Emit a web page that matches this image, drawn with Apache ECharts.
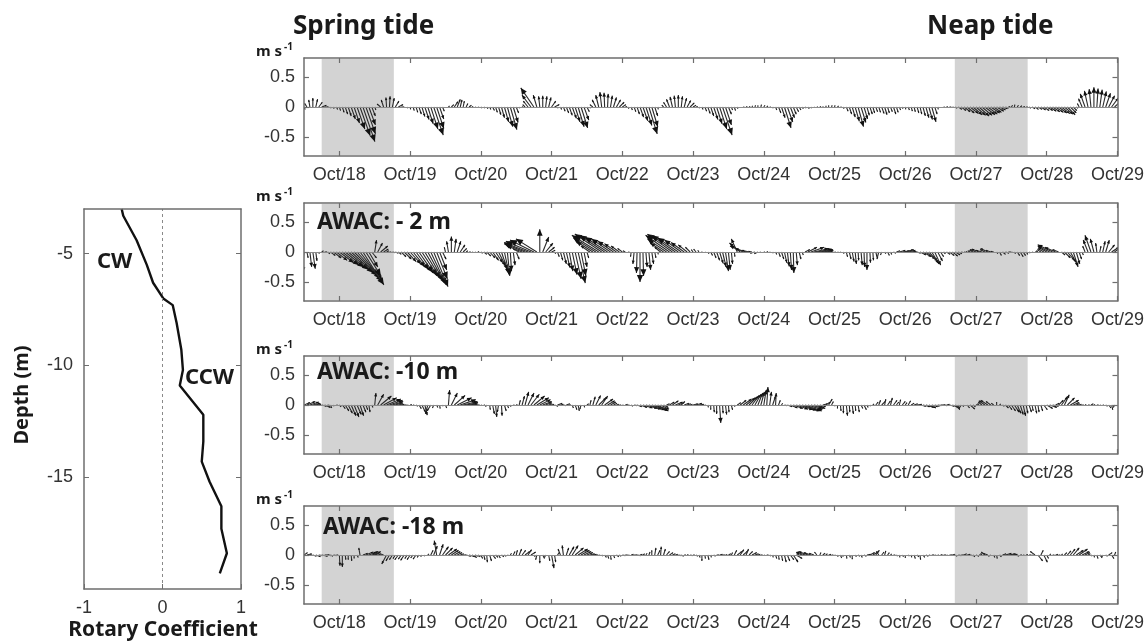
<!DOCTYPE html>
<html>
<head>
<meta charset="utf-8">
<title>Rotary coefficient and current sticks</title>
<script src="https://cdn.jsdelivr.net/npm/echarts@6/dist/echarts.min.js"></script>
<style>
  html, body { margin: 0; padding: 0; background: #fff; }
  #chart { width: 1147px; height: 642px; }
</style>
</head>
<body>
<div id="chart"></div>
<script>
// rotary coefficient profile (left panel)
const depth  = [-3.0, -3.3, -4.4, -5.5, -6.3, -7.0, -7.3, -8.1, -9.3, -10.2, -10.9, -12.2, -13.4, -14.3, -15.2, -16.3, -17.3, -18.4, -19.3];
const rotary = [-0.52, -0.50, -0.33, -0.20, -0.12, 0.01, 0.13, 0.18, 0.24, 0.26, 0.22, 0.52, 0.52, 0.50, 0.60, 0.75, 0.75, 0.82, 0.73];
const depthTicks = [-15, -10, -5];

// stick plots: hourly samples starting Oct 17 12:00, east (u) / north (v) in cm/s
const startDay = 17.5;
const dayTicks = [18, 19, 20, 21, 22, 23, 24, 25, 26, 27, 28, 29];
const dayLabels = ['Oct/18', 'Oct/19', 'Oct/20', 'Oct/21', 'Oct/22', 'Oct/23', 'Oct/24', 'Oct/25', 'Oct/26', 'Oct/27', 'Oct/28', 'Oct/29'];
const speedTicks = [-0.5, 0, 0.5];
const speedLabels = ['-0.5', '0', '0.5'];
const tideBands = [[17.75, 18.77], [26.7, 27.73]];
const panelNames = ['', 'AWAC: - 2 m', 'AWAC: -10 m', 'AWAC: -18 m'];

const u1 = [
  2,-4,-2,0,3,6,8,6,3,1,1,2,2,3,4,5,7,9,13,17,20,16,11,6,
  2,0,-6,-4,-1,1,3,6,8,5,0,1,1,2,3,4,5,7,9,12,16,12,7,3,
  0,2,4,6,5,3,2,3,4,2,2,2,2,2,2,2,3,3,4,5,7,9,11,8,
  4,1,1,-4,-8,-15,-22,-6,-2,0,2,4,7,8,1,2,3,4,5,7,8,10,11,8,
  4,1,-5,-6,-5,-3,-1,1,3,5,7,8,6,3,1,2,3,4,6,8,10,14,10,5,
  1,0,-3,-5,-5,-4,-2,0,2,4,6,7,5,3,1,2,3,4,5,7,9,12,16,10,
  5,2,2,1,0,2,2,2,1,1,0,1,2,2,2,1,2,4,6,11,9,7,5,4,
  3,2,2,2,1,1,2,2,1,1,0,1,1,2,2,1,3,4,5,7,9,8,6,4,
  4,3,3,3,4,4,3,3,4,3,2,1,1,2,2,2,3,3,4,5,6,7,4,1,
  0,2,2,3,3,3,6,8,10,12,14,15,16,17,17,17,16,15,13,12,10,8,5,3,
  2,1,2,3,3,3,3,5,6,7,8,9,10,11,12,13,14,14,14,13,10,6,3,-3,
  -6,-8,-6,-3,0,2,4,6,8,10,11,12
];
const v1 = [
  -4,6,12,15,13,8,3,0,-1,-2,-3,-4,-6,-9,-12,-15,-20,-27,-37,-48,-58,-45,-30,-15,
  -5,-1,5,12,16,18,15,10,4,0,-1,-2,-4,-6,-9,-12,-16,-21,-28,-37,-47,-36,-20,-7,
  -1,2,4,9,13,12,10,6,3,1,-1,-1,-2,-2,-3,-4,-6,-9,-13,-18,-25,-33,-38,-26,
  -10,-2,1,4,10,20,32,20,18,19,18,16,10,4,-2,-4,-7,-10,-14,-19,-25,-33,-35,-22,
  -8,-2,4,12,20,25,24,22,19,16,12,8,4,1,-3,-5,-8,-12,-17,-23,-31,-45,-33,-15,
  -4,-1,3,8,13,17,19,20,18,15,11,7,3,1,-2,-4,-7,-11,-15,-21,-28,-37,-47,-30,
  -12,-5,-6,-3,-1,0,1,1,2,3,3,4,3,2,0,-2,-5,-10,-18,-35,-25,-18,-12,-8,
  -5,-3,-2,-3,-2,-1,0,1,1,2,3,3,3,2,0,-3,-7,-12,-17,-24,-33,-26,-20,-14,
  -12,-10,-8,-9,-11,-13,-10,-8,-12,-9,-5,-3,-4,-5,-7,-8,-10,-12,-15,-18,-21,-25,-12,-4,
  -1,0,1,0,-1,-2,-4,-6,-8,-10,-11,-13,-14,-15,-14,-13,-12,-10,-9,-7,-5,-3,-2,1,
  3,4,3,2,1,0,-2,-3,-4,-4,-5,-6,-6,-7,-8,-9,-10,-11,-12,-13,-10,-6,-2,6,
  14,22,27,30,33,31,29,26,23,19,15,11
];

const u2 = [
  -3,2,3,4,2,1,3,4,4,8,13,18,24,28,32,35,38,40,40,38,35,25,15,8,
  3,8,12,8,4,3,4,5,5,8,12,15,18,20,22,24,26,27,27,26,24,18,12,6,
  -2,-3,0,3,6,8,6,3,3,2,1,2,3,5,7,9,10,12,12,10,8,4,2,3,
  5,-10,-25,-35,-40,-42,-40,-35,0,10,12,10,6,2,3,4,5,6,6,8,10,12,8,5,
  3,-15,-28,-38,-45,-45,-42,-38,-32,-26,-20,-14,-8,-4,2,-1,-2,-1,0,1,2,3,3,2,
  1,-10,-22,-32,-40,-42,-40,-35,-28,-22,-15,-8,-3,-4,-2,0,1,2,3,4,5,6,6,5,
  3,2,1,-10,-18,-22,-18,-12,-6,-8,-6,-2,2,2,1,1,2,3,4,4,3,2,1,2,
  3,2,8,15,22,25,25,22,18,12,6,3,2,2,1,1,2,3,3,2,1,2,1,0,
  1,1,2,-3,-2,2,3,2,4,6,10,12,14,12,8,5,6,10,14,16,15,12,10,8,
  5,3,6,8,9,8,6,3,2,-2,-4,-6,-10,-12,-10,-8,-12,-8,-5,2,3,5,6,4,
  2,2,4,5,4,3,2,2,3,-3,-6,-10,-14,-20,-25,-18,-10,6,10,12,10,8,6,4,
  2,-4,-8,-10,-6,-2,2,4,6,10,12,15
];
const v2 = [
  -35,-10,-25,-28,-15,-3,2,0,-3,-6,-10,-14,-18,-22,-26,-30,-35,-40,-45,-50,-55,-40,-25,-10,
  20,15,10,5,2,0,-1,-2,-4,-8,-12,-16,-20,-25,-30,-35,-40,-45,-50,-55,-58,-45,-30,-12,
  8,18,26,22,18,12,6,2,0,-1,0,1,-2,-4,-7,-10,-14,-18,-24,-30,-38,-40,-32,-22,
  -12,5,10,14,16,18,20,22,38,25,15,8,3,-3,-8,-14,-20,-26,-32,-38,-45,-52,-40,-25,
  -10,10,18,24,28,30,28,25,22,18,14,10,6,2,0,-8,-20,-35,-50,-40,-25,-30,-20,-10,
  -4,8,15,22,28,30,28,24,20,16,12,8,4,5,3,1,-1,-3,-6,-10,-14,-19,-25,-32,
  -30,-20,-8,22,15,10,6,3,1,-2,-3,-1,0,1,0,-2,-4,-8,-12,-18,-24,-30,-35,-22,
  -12,-5,4,8,8,6,5,4,3,2,1,0,0,-1,0,-3,-8,-12,-16,-20,-14,-22,-25,-30,
  -18,-14,-8,-12,-5,-3,-6,-4,-2,2,3,2,4,3,1,0,-2,-5,-8,-12,-16,-20,-22,-15,
  -8,-3,-4,-6,-7,-5,-3,-1,0,1,2,3,4,5,3,4,6,3,1,-3,-6,-4,-2,0,
  -1,-3,-6,-8,-6,-4,-2,-1,0,2,4,6,8,10,12,8,4,-5,-10,-14,-18,-25,-20,-12,
  -5,10,20,28,22,15,10,18,20,12,8,12
];

const u3 = [
  10,14,15,12,8,4,8,10,4,2,1,2,3,5,6,7,8,8,7,6,5,3,2,2,
  2,10,18,22,24,22,18,12,8,5,4,3,3,2,3,4,6,4,-4,-6,-2,2,1,1,
  2,2,10,18,24,26,24,20,14,8,5,3,2,2,-2,1,3,2,-2,1,3,2,1,2,
  2,2,4,6,10,14,18,20,18,15,10,6,4,6,8,5,4,6,3,2,3,2,-2,1,
  3,2,4,8,12,10,14,12,9,6,4,3,3,4,2,3,5,8,12,16,20,22,24,22,
  18,14,8,5,8,10,12,10,6,8,6,4,8,10,8,4,2,1,0,1,0,2,1,2,
  1,2,1,6,10,14,15,14,12,10,8,6,4,2,3,5,1,3,2,4,8,12,16,20,
  24,26,28,24,20,16,14,10,8,8,6,3,1,0,1,0,2,1,2,1,2,3,4,2,
  1,2,4,3,6,2,5,3,6,4,2,5,3,4,5,6,8,10,12,14,12,10,8,6,
  8,6,5,8,10,6,2,-4,-2,4,8,4,3,-2,-6,-10,-12,-8,-4,0,2,3,5,6,
  7,8,6,5,4,3,4,2,3,2,3,6,10,12,10,6,8,10,8,12,14,10,6,4,
  3,2,3,4,2,3,2,2,3,4,2,-2
];
const v3 = [
  4,6,5,3,2,1,-2,-4,-1,-5,-2,0,-3,-6,-10,-14,-18,-20,-16,-18,-12,-8,-12,-4,
  20,18,15,12,10,8,6,4,2,1,0,-1,1,0,-2,-6,-12,-17,-15,-10,-5,-4,-6,-2,
  -5,25,20,16,12,9,6,4,2,1,0,0,-1,0,-3,-8,-15,-20,-12,-18,-10,-5,-3,0,
  1,8,15,22,20,18,15,12,9,6,4,2,1,-2,3,1,-1,2,0,-5,-8,-10,-7,-4,
  2,8,14,16,12,15,10,7,5,3,1,0,-1,1,0,-2,-1,-3,-4,-5,-6,-7,-8,-9,
  -10,-7,-4,2,5,7,5,4,6,3,2,1,2,3,1,0,-1,-4,-8,-12,-15,-30,-14,-16,
  -12,-8,-3,4,8,10,12,14,16,18,20,22,25,30,22,15,20,8,3,-1,-3,-5,-6,-7,
  -8,-9,-10,-8,-6,-4,-6,-3,2,5,10,6,-2,-6,-10,-14,-18,-12,-15,-10,-12,-6,-8,-4,
  -2,2,5,8,6,10,7,12,8,5,9,6,4,7,3,2,1,-2,-3,-4,-5,-3,-2,-1,
  0,-1,1,-2,-4,-6,-8,-6,-3,-5,-7,-3,1,3,5,7,8,6,3,5,2,-2,-5,-8,
  -10,-12,-14,-16,-18,-14,-12,-10,-14,-12,-10,-8,-6,-4,-2,3,8,14,17,12,8,4,2,1,
  0,1,0,2,1,0,-1,0,-2,-5,-8,-4
];

const u4 = [
  6,8,4,6,8,6,10,8,6,4,5,3,1,0,1,0,1,0,2,-2,8,12,16,14,
  10,-8,-12,-6,-8,-6,-5,-4,-6,-5,-6,-4,-5,-4,-5,-3,-2,-1,2,4,6,-4,6,10,
  12,14,12,10,8,6,5,8,10,8,6,4,3,2,1,3,5,4,3,4,3,2,2,3,
  2,4,6,8,6,8,2,-2,0,3,-2,2,4,2,3,-4,-2,4,8,10,14,16,14,12,
  10,8,6,4,3,2,3,2,1,2,4,3,5,4,3,4,5,6,4,3,2,2,0,2,
  4,1,3,5,6,5,4,5,4,3,2,4,3,3,2,0,1,2,1,3,4,5,4,3,
  4,2,4,8,6,8,4,6,8,6,4,3,2,3,2,1,2,1,2,3,4,6,8,10,
  -4,-10,-14,-16,-12,-8,-4,2,4,3,4,3,2,1,2,-1,1,2,0,2,3,2,4,6,
  8,10,6,-4,4,2,3,2,3,2,1,2,0,2,1,2,3,1,3,4,3,4,3,2,
  3,4,3,5,4,3,5,6,4,5,4,3,5,4,-2,-6,-8,-4,2,1,3,6,10,12,
  10,6,3,3,2,3,4,2,-8,8,4,6,3,2,3,4,3,2,4,6,8,10,12,14,
  12,8,4,2,1,2,3,-2,3,6,4,2
];
const v4 = [
  4,2,0,-2,-3,-1,-2,0,-1,-2,-1,0,-18,-20,-8,-8,-10,-6,-4,12,3,5,6,4,
  6,3,5,2,-15,-10,-8,-6,-8,-7,-9,-6,-8,-5,-7,-4,-3,-2,2,8,15,24,18,14,
  12,10,8,6,4,2,0,-2,-3,-4,-2,-3,-6,-8,-12,-10,-6,-4,-5,-3,-2,-1,3,6,
  8,10,8,6,9,5,-3,-8,-14,-6,-4,-10,-22,-12,4,10,16,12,14,16,12,10,8,6,
  4,2,1,0,-1,-2,-4,-6,-8,-5,-3,-2,-1,0,-1,1,0,-1,1,2,3,5,8,12,
  8,14,10,6,4,2,1,-1,-2,0,1,-1,0,-2,-4,-10,-6,-8,-4,-2,0,1,0,1,
  2,4,8,6,9,7,10,6,4,2,1,0,-1,0,-2,-4,-6,-8,-10,-12,-10,-8,-12,-6,
  2,4,5,6,4,3,5,4,3,2,1,0,-1,-3,-5,-3,-6,-4,-7,-3,-2,-4,-2,1,
  4,6,8,6,5,7,4,2,0,-2,-4,-3,-5,-2,-4,-6,-3,-8,-4,-2,-1,0,-1,0,
  1,0,-1,0,1,-2,-1,0,2,1,-1,-3,-2,0,3,5,3,-2,-4,-6,-3,2,3,2,
  1,-1,-2,0,0,1,0,-1,6,-10,8,-12,-6,2,0,1,0,2,4,7,10,12,8,10,
  6,4,2,-2,-4,-6,-3,-5,-2,4,-6,5
];

const panels = [[u1, v1], [u2, v2], [u3, v3], [u4, v4]];

// layout
const panelTop = [58, 203, 356, 506];
const panelLeft = 304, panelWidth = 814, panelHeight = 98;
const yLim = 0.82;
const frame = '#6e6e6e';
const xTickFont = { color: '#333', fontSize: 18, fontFamily: '"Liberation Sans", Arial, sans-serif' };
const yTickFont = { color: '#333', fontSize: 18, fontFamily: '"Liberation Sans", Arial, sans-serif' };
const boldFont = '"Noto Sans", "Open Sans", sans-serif';

function stickItem(params, api) {
  const t = api.value(0), u = api.value(1) / 100, v = api.value(2) / 100;
  const p0 = api.coord([t, 0]);
  const k = api.size([0, 1])[1];
  const dx = u * k, dy = -v * k;
  const x1 = p0[0] + dx, y1 = p0[1] + dy;
  const len = Math.hypot(dx, dy);
  const kids = [{
    type: 'line',
    shape: { x1: p0[0], y1: p0[1], x2: x1, y2: y1 },
    style: { stroke: '#2a2a2a', lineWidth: 1.1 }
  }];
  if (len > 2) {
    const h = Math.min(7, len * 0.28), w = h * 0.45;
    const ex = dx / len, ey = dy / len;
    const bx = x1 - ex * h, by = y1 - ey * h;
    kids.push({
      type: 'polygon',
      shape: { points: [[x1, y1], [bx - ey * w, by + ex * w], [bx + ey * w, by - ex * w]] },
      style: { fill: '#111' }
    });
  }
  return { type: 'group', children: kids };
}

function bandItem(params, api) {
  const a = api.coord([api.value(0), yLim]);
  const b = api.coord([api.value(1), -yLim]);
  return {
    type: 'rect',
    shape: { x: a[0], y: a[1] + 1, width: b[0] - a[0], height: b[1] - a[1] - 2 },
    style: { fill: '#d3d3d3' }
  };
}

const grid = [{ left: 84, top: 209, width: 157, height: 380 }];
const xAxis = [
  { type: 'value', gridIndex: 0, min: -1, max: 1, interval: 1, z: 10,
    axisLine: { onZero: false, lineStyle: { color: frame, width: 1.5 } },
    axisTick: { inside: true, length: 5, lineStyle: { color: frame } },
    axisLabel: Object.assign({ margin: 10 }, yTickFont),
    splitLine: { show: false } },
  { type: 'value', gridIndex: 0, min: -1, max: 1, position: 'top', z: 10,
    axisLine: { onZero: false, lineStyle: { color: frame, width: 1.5 } },
    axisTick: { show: false }, axisLabel: { show: false }, splitLine: { show: false } }
];
const yAxis = [
  { type: 'value', gridIndex: 0, min: -20, max: -3, z: 10,
    axisLine: { onZero: false, lineStyle: { color: frame, width: 1.5 } },
    axisTick: { inside: true, length: 5, customValues: depthTicks, lineStyle: { color: frame } },
    axisLabel: Object.assign({ margin: 11, customValues: depthTicks }, yTickFont),
    splitLine: { show: false } },
  { type: 'value', gridIndex: 0, min: -20, max: -3, position: 'right', z: 10,
    axisLine: { onZero: false, lineStyle: { color: frame, width: 1.5 } },
    axisTick: { inside: true, length: 5, customValues: depthTicks, lineStyle: { color: frame } },
    axisLabel: { show: false }, splitLine: { show: false } }
];
const series = [{
  type: 'line', xAxisIndex: 0, yAxisIndex: 0,
  data: depth.map((d, i) => [rotary[i], d]),
  symbol: 'none', lineStyle: { color: '#111', width: 2.4 },
  markLine: {
    silent: true, symbol: 'none', label: { show: false },
    lineStyle: { color: '#8a8a8a', type: [3, 3], width: 1 },
    data: [{ xAxis: 0 }]
  }
}];

panels.forEach(([u, v], p) => {
  const gi = p + 1;
  grid.push({ left: panelLeft, top: panelTop[p], width: panelWidth, height: panelHeight });
  const xBase = { type: 'value', gridIndex: gi, min: startDay, max: 29, z: 10,
    axisLine: { onZero: false, lineStyle: { color: frame, width: 1.5 } },
    axisTick: { inside: true, length: 5, customValues: dayTicks, lineStyle: { color: frame, width: 1.2 } },
    splitLine: { show: false } };
  xAxis.push(Object.assign({}, xBase, {
    position: 'bottom',
    axisLabel: Object.assign({ margin: 10, customValues: dayTicks,
      formatter: val => dayLabels[dayTicks.indexOf(Math.round(val))] }, xTickFont)
  }));
  xAxis.push(Object.assign({}, xBase, { position: 'top', axisLabel: { show: false } }));
  const yBase = { type: 'value', gridIndex: gi, min: -yLim, max: yLim, z: 10,
    axisLine: { onZero: false, lineStyle: { color: frame, width: 1.5 } },
    axisTick: { inside: true, length: 5, customValues: speedTicks, lineStyle: { color: frame, width: 1.2 } },
    splitLine: { show: false } };
  yAxis.push(Object.assign({}, yBase, {
    position: 'left',
    axisLabel: Object.assign({ margin: 9, customValues: speedTicks,
      formatter: val => speedLabels[speedTicks.indexOf(Math.round(val * 10) / 10)] }, yTickFont)
  }));
  yAxis.push(Object.assign({}, yBase, { position: 'right', axisLabel: { show: false } }));

  const xi = 2 + 2 * p, yi = 2 + 2 * p;
  series.push({
    type: 'custom', xAxisIndex: xi, yAxisIndex: yi, z: 1,
    renderItem: bandItem, data: tideBands, encode: { x: [0, 1] }, silent: true
  });
  series.push({
    type: 'custom', xAxisIndex: xi, yAxisIndex: yi, z: 3, clip: true,
    renderItem: stickItem,
    data: v.map((vv, i) => [startDay + i / 24, u[i], vv]),
    encode: { x: 0, y: 2 },
    markLine: {
      silent: true, symbol: 'none', label: { show: false },
      lineStyle: { color: '#8c8c8c', width: 1, type: 'solid' },
      data: [{ yAxis: 0 }]
    }
  });
});

function txt(text, x, y, size, extra) {
  return Object.assign({
    type: 'text', x: x, y: y, z: 20, silent: true,
    style: { text: text, fontSize: size, fontWeight: 'bold', fontFamily: boldFont,
      fill: '#1a1a1a', textAlign: 'left', textVerticalAlign: 'middle' }
  }, extra || {});
}

const graphic = [
  txt('Spring tide', 293, 27, 26),
  txt('Neap tide', 927, 27, 26),
  txt('CW', 97, 262, 22),
  txt('CCW', 185, 378, 22),
  txt('Rotary Coefficient', 163, 630, 21),
  txt('Depth (m)', 22, 395, 20, { rotation: Math.PI / 2 })
];
graphic[4].style.textAlign = 'center';
graphic[5].style.textAlign = 'center';

panelTop.forEach((top, p) => {
  graphic.push(txt('m s', 256, top - 6, 15));
  graphic.push(txt('-1', 284, top - 11, 10));
  if (panelNames[p]) graphic.push(txt(panelNames[p], p === 3 ? 323 : 317, top + (p === 1 ? 19 : p === 2 ? 16 : 21), 23));
});

const chart = echarts.init(document.getElementById('chart'));
chart.setOption({
  animation: false,
  backgroundColor: '#fff',
  grid: grid,
  xAxis: xAxis,
  yAxis: yAxis,
  series: series,
  graphic: graphic
});
</script>
</body>
</html>
